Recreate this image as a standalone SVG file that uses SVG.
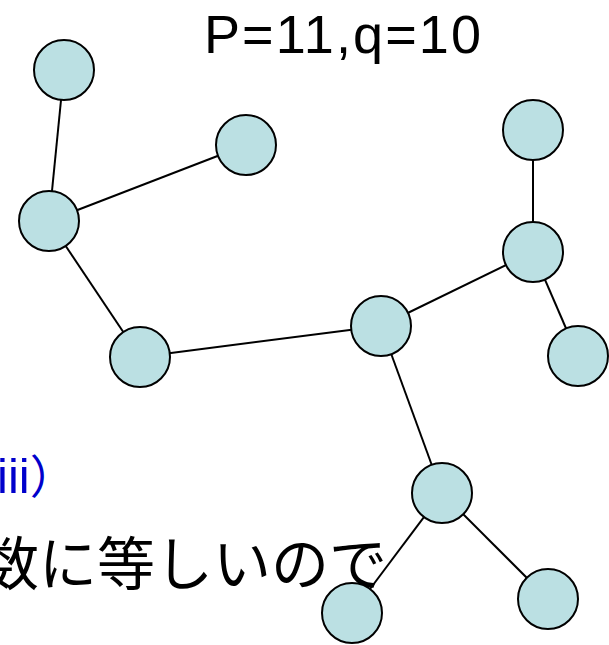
<svg xmlns="http://www.w3.org/2000/svg" width="609" height="645" viewBox="0 0 609 645">
<style>
.nd{fill:#BBE0E3;stroke:#000;stroke-width:2}
.ed{stroke:#000;stroke-width:2;fill:none}
.t{font-family:"Liberation Sans","Noto Sans CJK JP",sans-serif}
</style>
<rect width="609" height="645" fill="#fff"/>
<g id="texts">
<text class="t" x="204" y="53" font-size="54" textLength="277" lengthAdjust="spacing">P=11,q=10</text>
<text class="t" x="-3" y="493" font-size="49" fill="#0000CC">iii<tspan font-family="'Noto Sans CJK JP',sans-serif" font-size="46">）</tspan></text>
<text x="-19" y="585" font-size="58" font-family="'Noto Sans CJK JP',sans-serif" fill="#000">数に等しいので</text>
</g>
<g id="connectors">
<line class="ed" x1="64" y1="70" x2="49" y2="221"/>
<line class="ed" x1="246" y1="145" x2="49" y2="221"/>
<line class="ed" x1="49" y1="221" x2="140" y2="357"/>
<line class="ed" x1="140" y1="357" x2="381" y2="326"/>
<line class="ed" x1="381" y1="326" x2="533" y2="252"/>
<line class="ed" x1="533" y1="130" x2="533" y2="252"/>
<line class="ed" x1="533" y1="252" x2="578" y2="356"/>
<line class="ed" x1="381" y1="326" x2="442" y2="493"/>
<line class="ed" x1="442" y1="493" x2="352" y2="613"/>
<line class="ed" x1="442" y1="493" x2="548" y2="599"/>
</g>
<g id="nA"><circle class="nd" cx="64" cy="70" r="30"/></g>
<g id="nB"><circle class="nd" cx="246" cy="145" r="30"/></g>
<g id="nC"><circle class="nd" cx="49" cy="221" r="30"/></g>
<g id="nD"><circle class="nd" cx="140" cy="357" r="30"/></g>
<g id="nE"><circle class="nd" cx="381" cy="326" r="30"/></g>
<g id="nF"><circle class="nd" cx="533" cy="130" r="30"/></g>
<g id="nG"><circle class="nd" cx="533" cy="252" r="30"/></g>
<g id="nH"><circle class="nd" cx="578" cy="356" r="30"/></g>
<g id="nI"><circle class="nd" cx="442" cy="493" r="30"/></g>
<g id="nJ"><circle class="nd" cx="352" cy="613" r="30"/></g>
<g id="nK"><circle class="nd" cx="548" cy="599" r="30"/></g>
</svg>
